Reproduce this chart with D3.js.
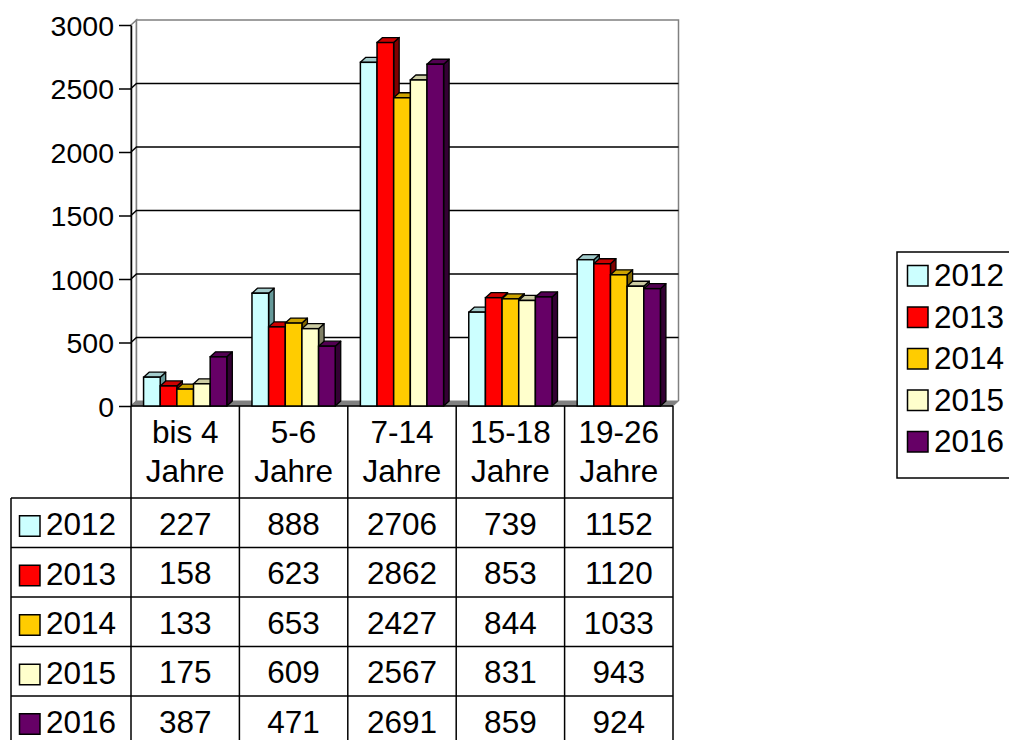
<!DOCTYPE html>
<html><head><meta charset="utf-8">
<script src="https://cdn.jsdelivr.net/npm/d3@7"></script>
<style>
html,body{margin:0;padding:0;background:#fff;}
svg{display:block;font-family:"Liberation Sans",Arial,sans-serif;}
</style></head>
<body>
<svg id="chart" width="1009" height="740"></svg>
<script>
// ---- data ----
const categories = ["bis 4 Jahre", "5-6 Jahre", "7-14 Jahre", "15-18 Jahre", "19-26 Jahre"];
const seriesNames = ["2012", "2013", "2014", "2015", "2016"];
const v2012 = [227, 888, 2706, 739, 1152];
const v2013 = [158, 623, 2862, 853, 1120];
const v2014 = [133, 653, 2427, 844, 1033];
const v2015 = [175, 609, 2567, 831, 943];
const v2016 = [387, 471, 2691, 859, 924];
const yTicks = [0, 500, 1000, 1500, 2000, 2500, 3000];

const seriesValues = [v2012, v2013, v2014, v2015, v2016];
const frontColors = ["#CCFFFF", "#FF0000", "#FFCC00", "#FFFFCC", "#660066"];
const topColors   = ["#A3CCCC", "#CC0000", "#CCA300", "#CCCCA3", "#520052"];
const sideColors  = ["#669999", "#800000", "#806600", "#808066", "#330033"];

const svg = d3.select("#chart");
const DX = 5.5, DY = -5;
const x0 = 131, x1 = 673;
const y = d3.scaleLinear().domain([0, 3000]).range([406, 25]);
const xCat = d3.scaleBand().domain(categories).range([x0, x1]).paddingInner(0.232).paddingOuter(0.116);
const xSer = d3.scaleBand().domain(seriesNames).range([0, xCat.bandwidth()]);

// ---- walls ----
const g = svg.append("g");
g.append("path")
  .attr("d", `M${x0},${y(0)}L${x0},${y(3000)}L${x0+DX},${y(3000)+DY}L${x0+DX},${y(0)+DY}Z`)
  .attr("fill", "#fff").attr("stroke", "#808080").attr("stroke-width", 1.5);
g.append("path")
  .attr("d", `M${x0+DX},${y(0)+DY}L${x0+DX},${y(3000)+DY}L${x1+DX},${y(3000)+DY}L${x1+DX},${y(0)+DY}`)
  .attr("fill", "#fff").attr("stroke", "#808080").attr("stroke-width", 1.5);
yTicks.filter(t => t > 0 && t < 3000).forEach(t => {
  g.append("path")
    .attr("d", `M${x0},${y(t)}L${x0+DX},${y(t)+DY}L${x1+DX},${y(t)+DY}`)
    .attr("fill", "none").attr("stroke", "#000").attr("stroke-width", 1.5);
});
g.append("path")
  .attr("d", `M${x0},${y(0)}L${x1},${y(0)}L${x1+DX},${y(0)+DY}L${x0+DX},${y(0)+DY}Z`)
  .attr("fill", "#808080").attr("stroke", "#808080").attr("stroke-width", 1);
g.append("line").attr("x1", x0).attr("x2", x1).attr("y1", y(0)).attr("y2", y(0))
  .attr("stroke", "#000").attr("stroke-width", 1.5);

// ---- bars ----
const bars = svg.append("g");
categories.forEach((c, ci) => {
  seriesNames.forEach((s, si) => {
    const v = seriesValues[si][ci];
    const bx = xCat(c) + xSer(s), bw = xSer.bandwidth();
    const by = y(v), b0 = y(0);
    bars.append("path")
      .attr("d", `M${bx+bw},${b0}L${bx+bw},${by}L${bx+bw+DX},${by+DY}L${bx+bw+DX},${b0+DY}Z`)
      .attr("fill", sideColors[si]).attr("stroke", "#000").attr("stroke-width", 1.3).attr("stroke-linejoin", "round");
    bars.append("path")
      .attr("d", `M${bx},${by}L${bx+bw},${by}L${bx+bw+DX},${by+DY}L${bx+DX},${by+DY}Z`)
      .attr("fill", topColors[si]).attr("stroke", "#000").attr("stroke-width", 1.3).attr("stroke-linejoin", "round");
    bars.append("rect")
      .attr("x", bx).attr("y", by).attr("width", bw).attr("height", b0 - by)
      .attr("fill", frontColors[si]).attr("stroke", "#000").attr("stroke-width", 1.5);
  });
});

// ---- y axis ----
const ax = svg.append("g").attr("transform", `translate(${x0},0)`)
  .call(d3.axisLeft(y).tickValues(yTicks).tickFormat(d3.format("d")).tickSize(12).tickSizeOuter(0).tickPadding(5));
ax.select(".domain").attr("stroke", "#000").attr("stroke-width", 1.5);
ax.selectAll(".tick line").attr("stroke", "#000").attr("stroke-width", 1.5);
ax.selectAll(".tick text").attr("font-size", 28.5).attr("fill", "#000")
  .attr("font-family", "'Liberation Sans', Arial, sans-serif").attr("dy", "0.36em");

// ---- data table ----
const tbl = svg.append("g");
const headTop = 406, headBot = 498, rowH = 49.5, leftX = 11;
const fs = 31.5;
const rowTop = i => headBot + i * rowH;
const tableBottom = rowTop(seriesNames.length);
const colEdges = [x0].concat(categories.map(c => xCat(c) - xCat.paddingInner() * xCat.step() / 2 + xCat.step()));
colEdges[colEdges.length - 1] = x1;
colEdges.forEach(xe => {
  tbl.append("line").attr("x1", xe).attr("x2", xe).attr("y1", headTop).attr("y2", tableBottom)
    .attr("stroke", "#000").attr("stroke-width", 1.5);
});
tbl.append("line").attr("x1", leftX).attr("x2", leftX).attr("y1", headBot).attr("y2", tableBottom)
  .attr("stroke", "#000").attr("stroke-width", 1.5);
for (let i = 0; i <= seriesNames.length; i++) {
  tbl.append("line").attr("x1", leftX).attr("x2", x1).attr("y1", rowTop(i)).attr("y2", rowTop(i))
    .attr("stroke", "#000").attr("stroke-width", 1.5);
}
categories.forEach(c => {
  const cx = xCat(c) + xCat.bandwidth() / 2;
  const k = c.lastIndexOf(" ");
  const lines = [c.slice(0, k), c.slice(k + 1)];
  lines.forEach((t, li) => {
    tbl.append("text").attr("x", cx).attr("y", 443 + li * 39).attr("text-anchor", "middle")
      .attr("font-size", fs).attr("fill", "#000").text(t);
  });
});
seriesNames.forEach((s, si) => {
  const cy = rowTop(si) + rowH / 2;
  tbl.append("rect").attr("x", 19.5).attr("y", cy - 7).attr("width", 20.5).attr("height", 20.5)
    .attr("fill", frontColors[si]).attr("stroke", "#000").attr("stroke-width", 1.5);
  tbl.append("text").attr("x", 46).attr("y", cy + 12.5).attr("font-size", fs).attr("fill", "#000").text(s);
  categories.forEach((c, ci) => {
    tbl.append("text").attr("x", xCat(c) + xCat.bandwidth() / 2).attr("y", cy + 12)
      .attr("text-anchor", "middle").attr("font-size", fs).attr("fill", "#000").text(seriesValues[si][ci]);
  });
});

// ---- legend ----
const lg = svg.append("g");
lg.append("rect").attr("x", 897).attr("y", 252).attr("width", 130).attr("height", 226)
  .attr("fill", "#fff").attr("stroke", "#000").attr("stroke-width", 1.5);
seriesNames.forEach((s, si) => {
  const base = 286 + si * 41.5;
  lg.append("rect").attr("x", 907.5).attr("y", base - 20.5).attr("width", 20.5).attr("height", 20.5)
    .attr("fill", frontColors[si]).attr("stroke", "#000").attr("stroke-width", 1.5);
  lg.append("text").attr("x", 934).attr("y", base).attr("font-size", fs).attr("fill", "#000").text(s);
});
</script>
</body></html>
